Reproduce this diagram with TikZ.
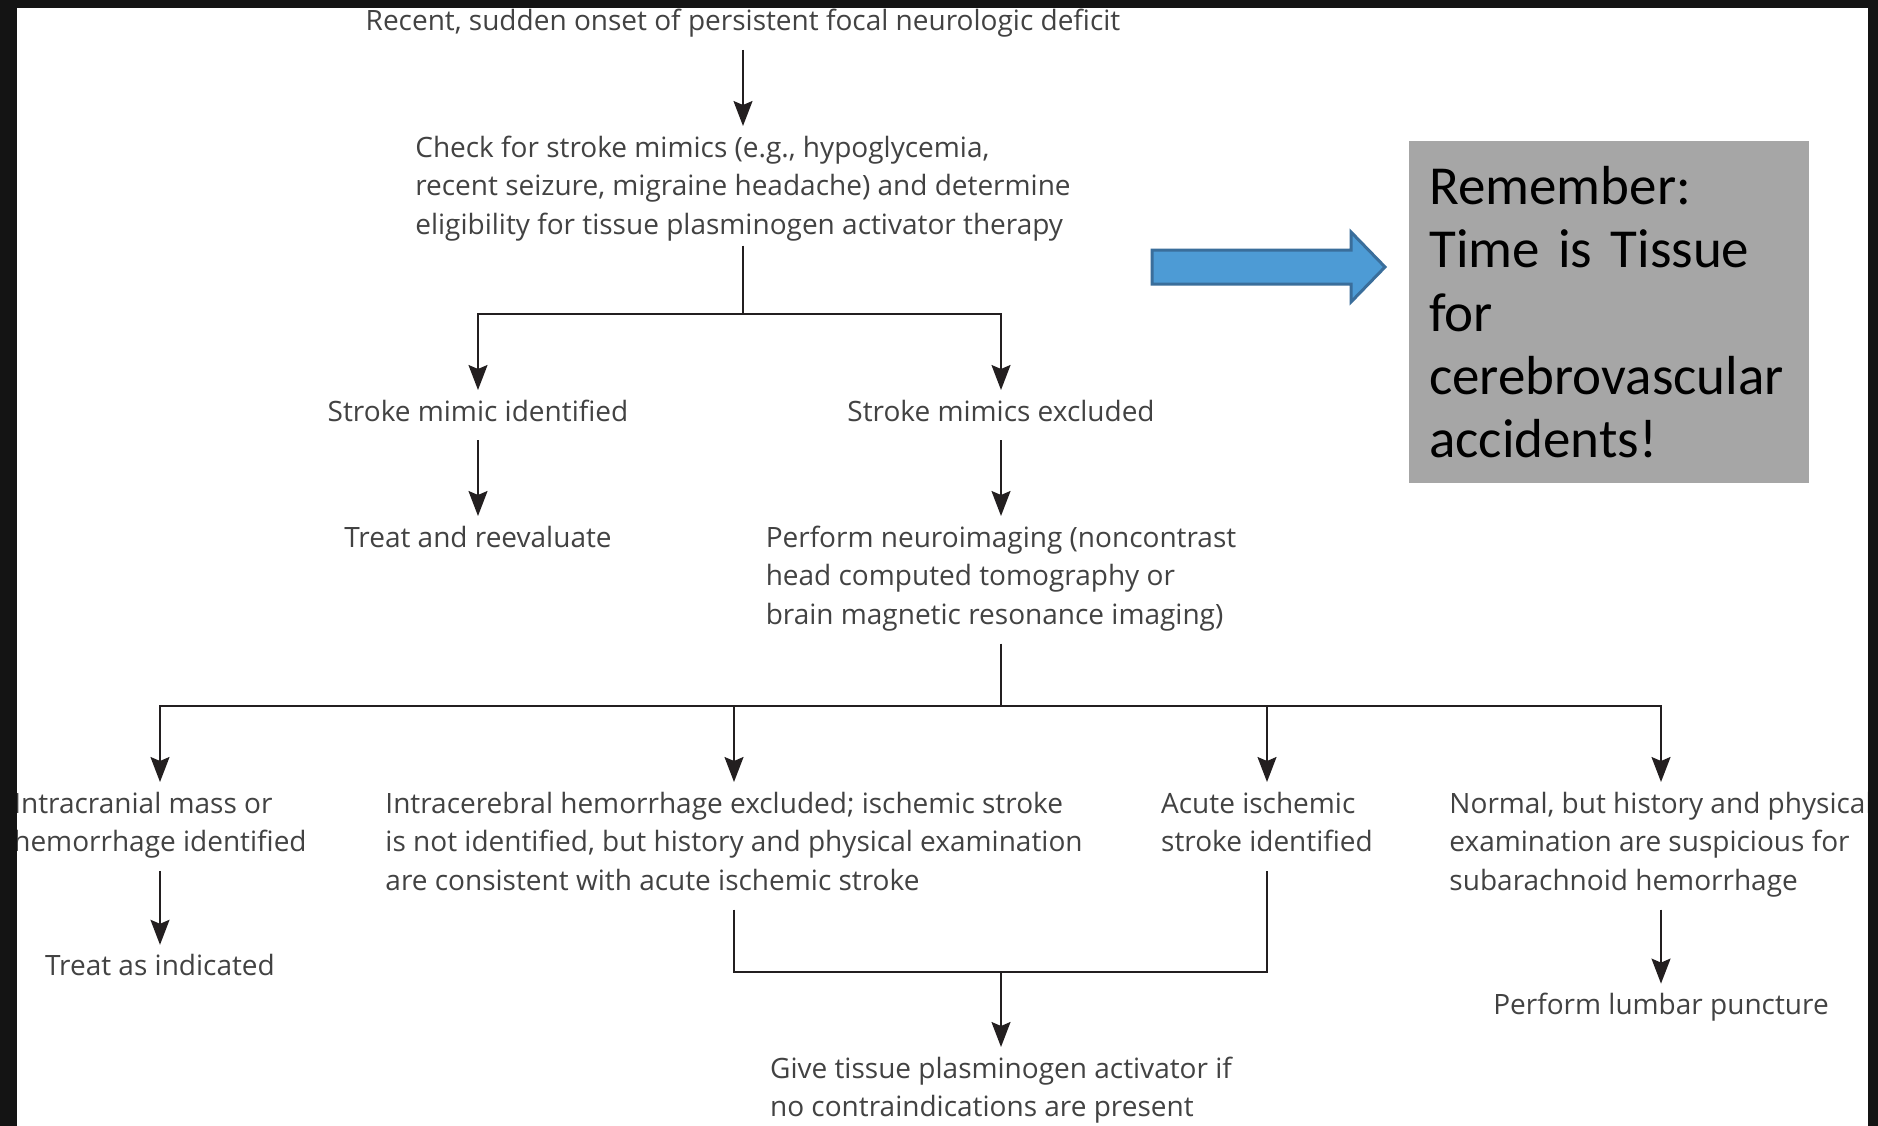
\documentclass[tikz,border=0pt]{standalone}
\usepackage{fontspec}
\setmainfont{Open Sans}
\newfontfamily\memofont{Carlito}[WordSpace=0.6]
\usepackage{tikz}
\usetikzlibrary{arrows.meta, positioning}
\definecolor{inkgray}{RGB}{66,66,66}
\definecolor{linegray}{RGB}{35,31,32}
\definecolor{memogray}{RGB}{166,166,166}
\definecolor{arrowblue}{RGB}{77,155,213}
\definecolor{arrowedge}{RGB}{58,110,155}
\definecolor{framecol}{RGB}{20,20,20}

\newcommand\flowfont{\fontsize{28}{38.8}\selectfont}
\newcommand\memosize{\memofont\fontsize{55}{63.3}\selectfont}
\newcommand\steptext[1]{\rule{0pt}{31pt}#1\rule[-19pt]{0pt}{19pt}}

\begin{document}
\begin{tikzpicture}[
    x=1pt, y=-1pt,
    stepbox/.style={font=\flowfont, text=inkgray, align=left, inner sep=0pt, outer sep=0pt, anchor=north},
    flowline/.style={line width=1.8pt, draw=linegray},
    flowarrow/.style={flowline, -{Stealth[length=25pt, width=19pt, inset=4pt]}},
    memobox/.style={rectangle, fill=memogray, text=black, font=\memosize, align=left, anchor=north west, inner xsep=20pt, text width=360pt, minimum height=342pt}
]
\useasboundingbox (0,0) rectangle (1878,1126);
\fill[white] (0,0) rectangle (1878,1126);

\node[stepbox] (onset) at (743,0) {\steptext{Recent, sudden onset of persistent focal neurologic deficit}};
\node[stepbox, below=76pt of onset] (check) {\steptext{Check for stroke mimics (e.g., hypoglycemia,\\ recent seizure, migraine headache) and determine\\ eligibility for tissue plasminogen activator therapy}};
\node[stepbox] (mimic) at (478,390) {\steptext{Stroke mimic identified}};
\node[stepbox] (nomimic) at (1001,390) {\steptext{Stroke mimics excluded}};
\node[stepbox, below=76pt of mimic] (treat) {\steptext{Treat and reevaluate}};
\node[stepbox, below=76pt of nomimic] (imaging) {\steptext{Perform neuroimaging (noncontrast\\ head computed tomography or\\ brain magnetic resonance imaging)}};
\node[stepbox] (mass) at (160,782) {\steptext{Intracranial mass or\\ hemorrhage identified}};
\node[stepbox] (noich) at (734,782) {\steptext{Intracerebral hemorrhage excluded; ischemic stroke\\ is not identified, but history and physical examination\\ are consistent with acute ischemic stroke}};
\node[stepbox] (acute) at (1267,782) {\steptext{Acute ischemic\\ stroke identified}};
\node[stepbox] (sah) at (1661,782) {\steptext{Normal, but history and physical\\ examination are suspicious for\\ subarachnoid hemorrhage}};
\node[stepbox, below=74pt of mass] (treatind) {\steptext{Treat as indicated}};
\node[stepbox, below=74pt of sah] (lumbar) {\steptext{Perform lumbar puncture}};
\coordinate (split) at (743,314);
\coordinate (fan) at (1001,706);
\coordinate (merge) at (1001,972);
\node[stepbox, below=75pt of merge] (tpa) {\steptext{Give tissue plasminogen activator if\\ no contraindications are present}};

\draw[flowarrow] (onset.south) -- (check.north);
\draw[flowline] ([yshift=8pt]check.south) -- (split);
\draw[flowarrow] (split) -| (mimic.north);
\draw[flowarrow] (split) -| (nomimic.north);
\draw[flowarrow] (mimic.south) -- (treat.north);
\draw[flowarrow] (nomimic.south) -- (imaging.north);
\draw[flowline] (imaging.south) -- (fan);
\draw[flowarrow] (fan) -| (mass.north);
\draw[flowarrow] (fan) -| (noich.north);
\draw[flowarrow] (fan) -| (acute.north);
\draw[flowarrow] (fan) -| (sah.north);
\draw[flowarrow] (mass.south) -- (treatind.north);
\draw[flowarrow] (sah.south) -- (lumbar.north);
\draw[flowline] (noich.south) |- (merge) -| (acute.south);
\draw[flowarrow] (merge) -- (tpa.north);

\node[memobox] (memo) at (1409,141) {Remember:\\ Time is Tissue\\ for\\ cerebrovascular\\ accidents!};
\draw[line width=3pt, draw=arrowedge, fill=arrowblue] (1152,250) -- (1351,250) -- (1351,232) -- (1385,267) -- (1351,302) -- (1351,284) -- (1152,284) -- cycle;

\fill[framecol] (0,0) rectangle (17,1126);
\fill[framecol] (0,0) rectangle (1878,8);
\fill[framecol] (1868,0) rectangle (1878,1126);
\end{tikzpicture}
\end{document}
